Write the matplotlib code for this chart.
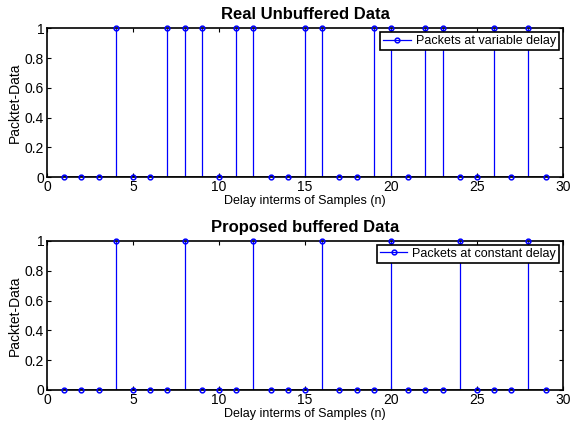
import matplotlib
matplotlib.use("Agg")
import matplotlib.pyplot as plt
from matplotlib.lines import Line2D

plt.rcParams['font.family'] = ['Liberation Sans', 'DejaVu Sans']

samples = list(range(1, 30))
variable_ones = [4, 7, 8, 9, 11, 12, 15, 16, 19, 20, 22, 23, 26, 28]
constant_ones = [4, 8, 12, 16, 20, 24, 28]
variable_data = [1 if n in variable_ones else 0 for n in samples]
constant_data = [1 if n in constant_ones else 0 for n in samples]

titles = ["Real Unbuffered Data", "Proposed buffered Data"]
labels = ["Packets at variable delay", "Packets at constant delay"]
xlabel = "Delay interms of Samples (n)"
ylabel = "Packtet-Data"

blue = '#0000ff'

fig = plt.figure(figsize=(5.7, 4.28), dpi=100)
ax1 = fig.add_axes([0.0825, 0.586, 0.905, 0.348])
ax2 = fig.add_axes([0.0825, 0.089, 0.905, 0.348])

for ax, data, title, label in zip([ax1, ax2], [variable_data, constant_data], titles, labels):
    ml, sl, bl = ax.stem(samples, data, linefmt='-', markerfmt='o', basefmt='k-')
    plt.setp(sl, color=blue, linewidth=0.9)
    plt.setp(ml, color=blue, markersize=3.4, markerfacecolor='none',
             markeredgewidth=1.1, clip_on=False, zorder=4)
    plt.setp(bl, color='black', linewidth=1.8)
    ax.set_xlim(0, 30)
    ax.set_ylim(0, 1)
    ax.set_xticks([0, 5, 10, 15, 20, 25, 30])
    ax.set_yticks([0, 0.2, 0.4, 0.6, 0.8, 1])
    ax.set_yticklabels(['0', '0.2', '0.4', '0.6', '0.8', '1'])
    ax.tick_params(direction='in', top=True, right=True, labelsize=10, length=3, pad=2)
    for s in ax.spines.values():
        s.set_linewidth(1.2)
    ax.set_title(title, fontsize=12, fontweight='bold', pad=6.5)
    ax.set_xlabel(xlabel, fontsize=9, labelpad=1)
    ax.set_ylabel(ylabel, fontsize=10, labelpad=2)
    handle = Line2D([], [], color=blue, linewidth=0.9, marker='o', markersize=3.4,
                    markerfacecolor='none', markeredgewidth=1.1)
    leg = ax.legend([handle], [label], loc='upper right', fontsize=9, fancybox=False,
                    framealpha=1, edgecolor='black', borderpad=0.25, handlelength=2.2,
                    handletextpad=0.4, borderaxespad=0.3, numpoints=1)
    leg.get_frame().set_linewidth(1.2)

fig.savefig("out.png", dpi=100)
